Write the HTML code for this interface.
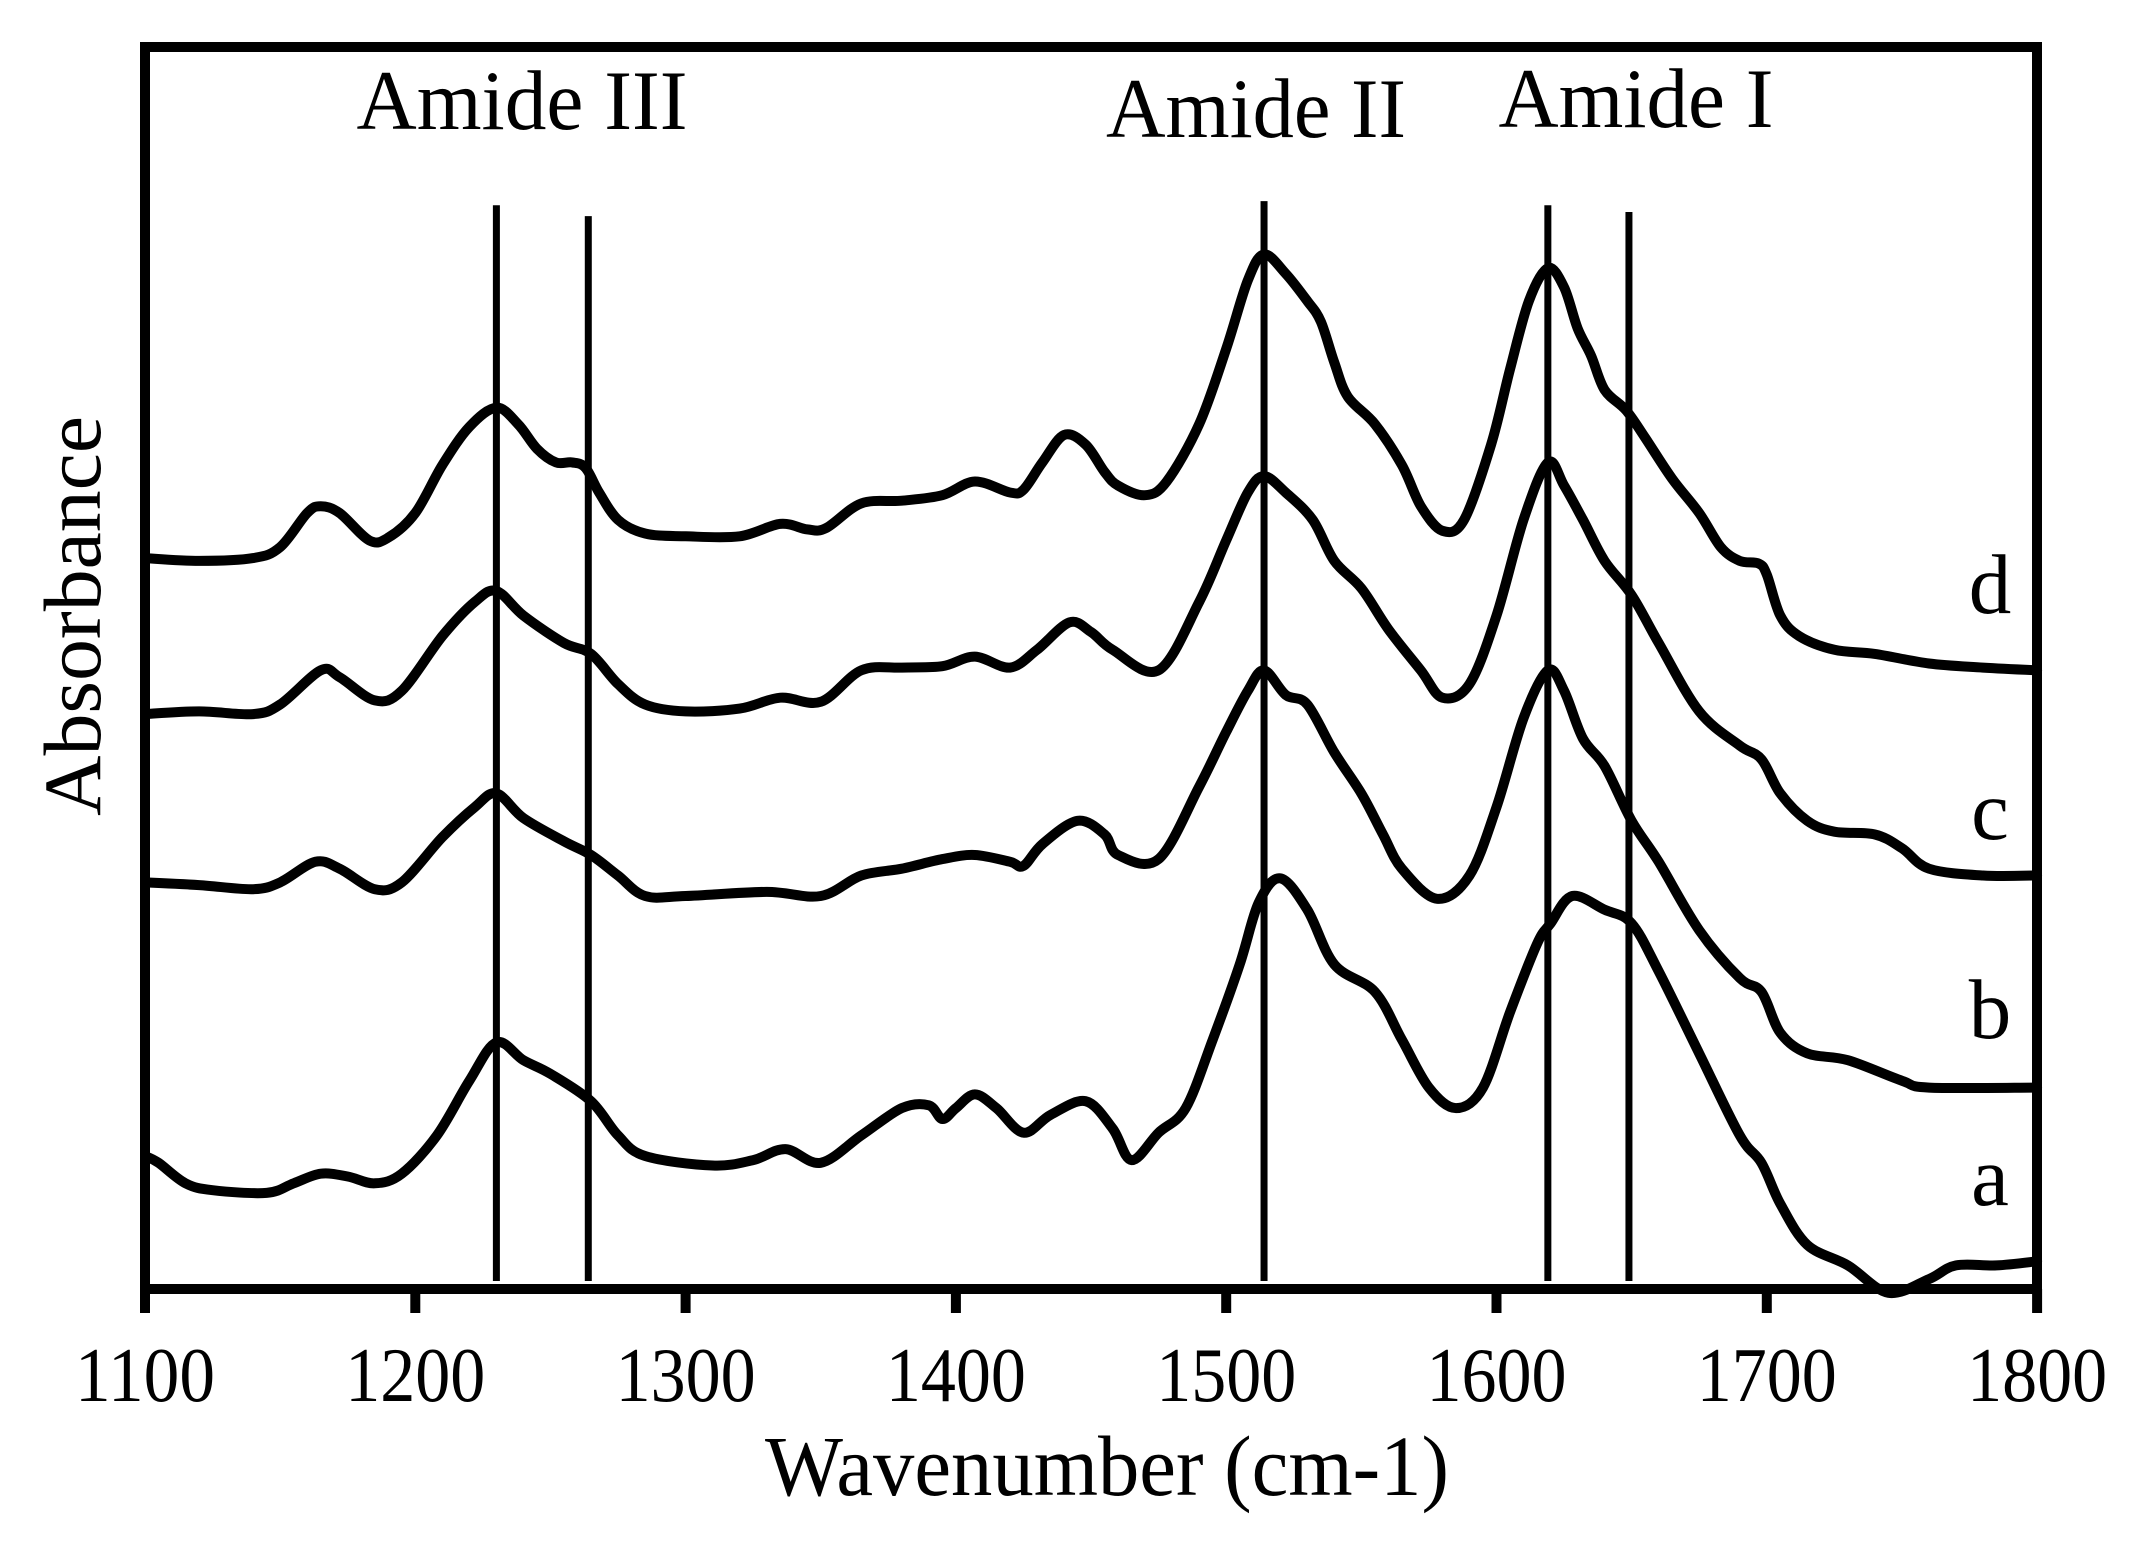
<!DOCTYPE html>
<html><head><meta charset="utf-8"><style>
html,body{margin:0;padding:0;background:#fff}
svg{display:block}
text{font-family:"Liberation Serif",serif;fill:#000}
</style></head><body>
<svg id="s" width="2134" height="1549" viewBox="0 0 2134 1549" xmlns="http://www.w3.org/2000/svg">
<rect x="0" y="0" width="2134" height="1549" fill="#fff"/>
<g id="curves" fill="none" stroke="#000" stroke-width="10" stroke-linejoin="round" stroke-linecap="round"></g>
<g id="vl" stroke="#000" stroke-width="7"></g>
<rect x="145" y="47" width="1892" height="1242" fill="none" stroke="#000" stroke-width="10"/>
<g id="ticks" stroke="#000" stroke-width="10"></g>
<g font-size="77" text-anchor="middle" id="tl"></g>
<text x="522" y="129" font-size="85" text-anchor="middle" textLength="331" lengthAdjust="spacingAndGlyphs">Amide III</text>
<text x="1256" y="137" font-size="85" text-anchor="middle" textLength="300" lengthAdjust="spacingAndGlyphs">Amide II</text>
<text x="1636" y="127" font-size="85" text-anchor="middle" textLength="275" lengthAdjust="spacingAndGlyphs">Amide I</text>
<g font-size="85" text-anchor="middle">
<text x="1990" y="613">d</text><text x="1990" y="839">c</text>
<text x="1990" y="1038">b</text><text x="1990" y="1205">a</text>
</g>
<text x="1107" y="1495" font-size="86" text-anchor="middle" textLength="684" lengthAdjust="spacingAndGlyphs">Wavenumber (cm-1)</text>
<text transform="translate(100,616) rotate(-90)" font-size="82" text-anchor="middle" textLength="400" lengthAdjust="spacingAndGlyphs">Absorbance</text>
</svg>
<script>
var X=function(w){return 145+(w-1100)*2.703;};
var K=1.368;
function parse(s){return s.trim().split(/,\s*/).map(function(p){var a=p.split(':');return [X(+a[0]),(+a[1])*K];});}
var D={
d:"1100:408, 1120:410, 1140:408, 1150:400, 1160:375, 1165:370, 1172:375, 1183:395, 1190:393, 1200:375, 1210:340, 1220:312, 1230:298, 1238:310, 1245:328, 1252:338, 1258:338, 1263:342, 1268:360, 1275:380, 1285:390, 1300:392, 1320:392, 1335:383, 1345:387, 1352:386, 1365:368, 1380:366, 1395:362, 1407:352, 1420:360, 1425:358, 1432:338, 1440:318, 1448:325, 1455:345, 1460:355, 1470:362, 1478:352, 1490:310, 1500:255, 1508:205, 1514:186, 1522:200, 1530:220, 1535:235, 1540:265, 1545:290, 1555:310, 1565:340, 1572:370, 1580:388, 1588:380, 1598:325, 1605:270, 1612:220, 1619:196, 1625:210, 1630:240, 1635:260, 1640:285, 1648:300, 1655:320, 1665:350, 1675:375, 1683:400, 1690:410, 1697:412, 1700:420, 1705:450, 1712:465, 1725:475, 1740:478, 1760:485, 1780:488, 1800:490",
c:"1100:522, 1120:520, 1140:522, 1150:515, 1165:490, 1172:495, 1185:512, 1195:505, 1210:465, 1222:440, 1230:432, 1240:450, 1255:470, 1265:478, 1275:500, 1285:515, 1300:520, 1320:518, 1335:510, 1350:513, 1365:490, 1380:488, 1395:487, 1407:480, 1420:488, 1430:475, 1442:455, 1450:462, 1458:475, 1475:490, 1490:440, 1500:395, 1508:360, 1514:348, 1522:360, 1532:380, 1540:410, 1550:430, 1560:460, 1572:490, 1580:510, 1590:500, 1600:450, 1610:380, 1619:338, 1625:355, 1632:380, 1640:410, 1650:435, 1660:470, 1675:520, 1690:545, 1698:555, 1705:580, 1715:600, 1725:608, 1740:610, 1750:620, 1760:635, 1780:640, 1800:640",
b:"1100:645, 1120:647, 1140:650, 1150:645, 1163:630, 1172:635, 1185:650, 1195:645, 1210:612, 1222:590, 1230:580, 1240:598, 1255:615, 1265:625, 1275:640, 1285:655, 1300:655, 1330:652, 1350:655, 1365:640, 1380:635, 1395:628, 1407:625, 1420:630, 1425:633, 1432:617, 1445:600, 1455:610, 1460:625, 1475:628, 1490:575, 1500:535, 1508:505, 1514:490, 1522:508, 1530:515, 1540:550, 1550:580, 1558:610, 1565:635, 1578:657, 1590:640, 1600:590, 1610:525, 1619:490, 1625:505, 1632:540, 1640:560, 1650:600, 1660:630, 1675:680, 1690:715, 1698:725, 1705:755, 1715:770, 1730:775, 1750:790, 1760:795, 1800:795",
a:"1100:845, 1105:850, 1115:865, 1125:870, 1145:872, 1155:865, 1165:858, 1175:860, 1185:865, 1195:858, 1208:830, 1220:790, 1230:762, 1240:775, 1250:785, 1265:805, 1275:830, 1285:845, 1310:852, 1325:848, 1337:840, 1350:850, 1365:830, 1380:810, 1390:808, 1395:818, 1400:810, 1407:800, 1415:810, 1425:828, 1435:815, 1448:805, 1458:825, 1465:848, 1475:828, 1485:810, 1495:760, 1505:705, 1512:660, 1520:642, 1530:665, 1540:705, 1555:725, 1565:760, 1575:795, 1585:810, 1595:795, 1605:740, 1615:690, 1620:675, 1628:655, 1640:665, 1650:675, 1660:710, 1675:770, 1690:830, 1698:850, 1705:880, 1715:910, 1730:925, 1745:945, 1760:935, 1770:925, 1785:925, 1800:922"};
var NS="http://www.w3.org/2000/svg";
function path(p){var d="M"+p[0][0].toFixed(1)+","+p[0][1].toFixed(1);
for(var i=0;i<p.length-1;i++){var p0=p[i-1]||p[i],p1=p[i],p2=p[i+1],p3=p[i+2]||p2;
var c1x=p1[0]+(p2[0]-p0[0])/6,c1y=p1[1]+(p2[1]-p0[1])/6,c2x=p2[0]-(p3[0]-p1[0])/6,c2y=p2[1]-(p3[1]-p1[1])/6;
d+="C"+c1x.toFixed(1)+","+c1y.toFixed(1)+" "+c2x.toFixed(1)+","+c2y.toFixed(1)+" "+p2[0].toFixed(1)+","+p2[1].toFixed(1);}return d;}
var g=document.getElementById("curves");
for(var k in D){var e=document.createElementNS(NS,"path");e.setAttribute("d",path(parse(D[k])));g.appendChild(e);}
var vl=[[1230,150],[1264,158],[1514,147],[1619,150],[1649,155]],v=document.getElementById("vl");
vl.forEach(function(a){var l=document.createElementNS(NS,"line");var x=X(a[0]);l.setAttribute("x1",x);l.setAttribute("x2",x);l.setAttribute("y1",a[1]*K);l.setAttribute("y2",1281);v.appendChild(l);});
var t=document.getElementById("ticks"),tl=document.getElementById("tl");
for(var w=1100;w<=1800;w+=100){var x=X(w);var l=document.createElementNS(NS,"line");l.setAttribute("x1",x);l.setAttribute("x2",x);l.setAttribute("y1",1289);l.setAttribute("y2",1313);t.appendChild(l);
var tx=document.createElementNS(NS,"text");tx.setAttribute("x",x);tx.setAttribute("y",1401);tx.setAttribute("textLength","140");tx.setAttribute("lengthAdjust","spacingAndGlyphs");tx.textContent=w;tl.appendChild(tx);}
</script>
</body></html>
